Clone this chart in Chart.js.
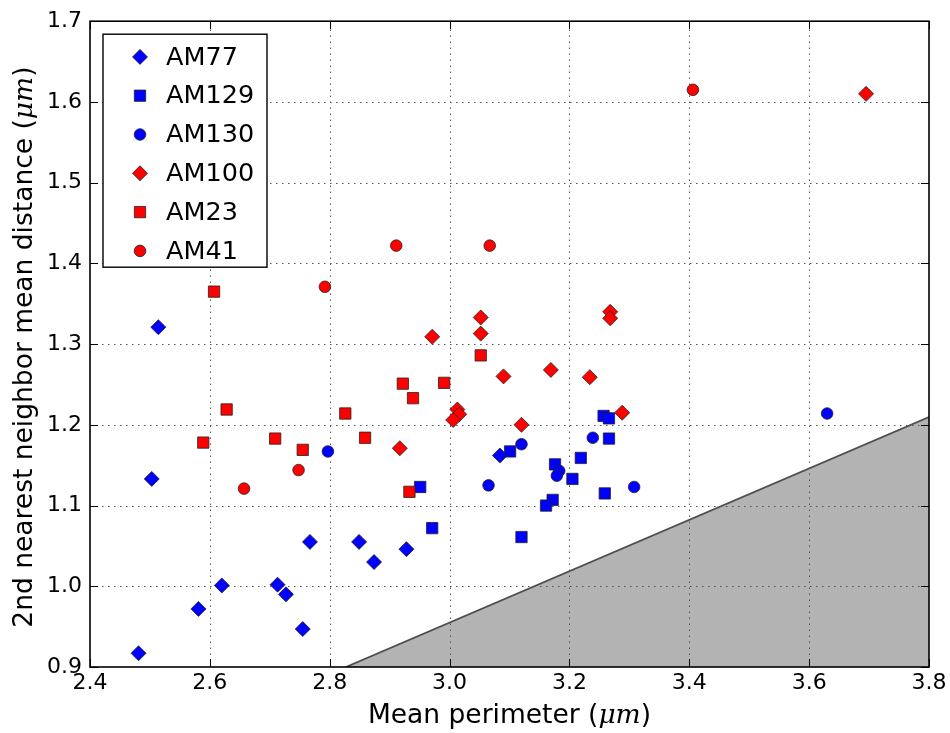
<!DOCTYPE html>
<html><head><meta charset="utf-8">
<script src="https://cdn.jsdelivr.net/npm/chart.js@4.4.0/dist/chart.umd.min.js"></script>
<style>html,body{margin:0;padding:0;background:#fff;} canvas{display:block;}</style>
</head><body>
<canvas id="c" width="950" height="733"></canvas>
<script>
// ---- data ----
const seriesNames = ['AM77', 'AM129', 'AM130', 'AM100', 'AM23', 'AM41'];

const am77X = [2.481, 2.514, 2.503, 2.581, 2.620, 2.713, 2.727, 2.755, 2.767, 2.849, 2.874, 2.928, 3.084];
const am77Y = [0.917, 1.321, 1.133, 0.972, 1.001, 1.002, 0.990, 0.947, 1.055, 1.055, 1.030, 1.046, 1.162];

const am129X = [2.951, 2.971, 3.101, 3.120, 3.176, 3.172, 3.161, 3.205, 3.219, 3.257, 3.266, 3.266, 3.259];
const am129Y = [1.123, 1.072, 1.167, 1.061, 1.151, 1.107, 1.100, 1.133, 1.159, 1.211, 1.208, 1.183, 1.115];

const am130X = [2.797, 3.120, 3.065, 3.183, 3.179, 3.239, 3.308, 3.630];
const am130Y = [1.167, 1.176, 1.125, 1.143, 1.137, 1.184, 1.123, 1.214];

const am100X = [2.971, 3.052, 3.052, 3.268, 3.268, 3.090, 3.169, 3.234, 3.288, 3.120, 2.917, 3.013, 3.016, 3.006, 3.695];
const am100Y = [1.309, 1.333, 1.313, 1.340, 1.332, 1.260, 1.268, 1.259, 1.215, 1.200, 1.171, 1.219, 1.213, 1.206, 1.610];

const am23X = [2.607, 2.628, 2.589, 2.709, 2.755, 2.826, 2.859, 2.922, 2.939, 2.991, 3.052, 2.933];
const am23Y = [1.365, 1.219, 1.178, 1.183, 1.169, 1.214, 1.184, 1.251, 1.233, 1.252, 1.286, 1.117];

const am41X = [2.792, 2.748, 2.657, 2.911, 3.067, 3.406];
const am41Y = [1.371, 1.144, 1.121, 1.422, 1.422, 1.615];

// shaded region boundary (y = x / pi)
const shadeX = [2.827, 3.8];
const shadeY = [0.9, 1.2096];

const xTicks = [2.4, 2.6, 2.8, 3.0, 3.2, 3.4, 3.6, 3.8];
const yTicks = [0.9, 1.0, 1.1, 1.2, 1.3, 1.4, 1.5, 1.6, 1.7];

// axis labels: [text, isMath]
const xLabelParts = [['Mean perimeter (', false], ['μm', true], [')', false]];
const yLabelParts = [['2nd nearest neighbor mean distance (', false], ['μm', true], [')', false]];

// ---- styling ----
const FONT = "'DejaVu Sans', 'Bitstream Vera Sans', sans-serif";
const MATHFONT = "'DejaVu Serif', serif";
const LABEL_SIZE = 26.5;
const BLUE = '#0000ff', RED = '#ff0000';
const seriesX = [am77X, am129X, am130X, am100X, am23X, am41X];
const seriesY = [am77Y, am129Y, am130Y, am100Y, am23Y, am41Y];
const seriesColor = [BLUE, BLUE, BLUE, RED, RED, RED];
const seriesStyle = ['rectRot', 'rect', 'circle', 'rectRot', 'rect', 'circle'];
const styleRadius = { rectRot: 7.5, rect: 8, circle: 5.8 };

const zip = (xs, ys) => xs.map((x, i) => ({ x: x, y: ys[i] }));

const datasets = seriesNames.map((name, i) => ({
  type: 'scatter',
  label: name,
  data: zip(seriesX[i], seriesY[i]),
  pointStyle: seriesStyle[i],
  pointRadius: styleRadius[seriesStyle[i]],
  pointBackgroundColor: seriesColor[i],
  pointBorderColor: '#222',
  pointBorderWidth: 0.8,
  order: 10 - i
}));
datasets.push({
  type: 'line',
  label: 'shade',
  data: zip(shadeX, shadeY),
  fill: 'start',
  backgroundColor: '#b3b3b3',
  borderColor: '#4d4d4d',
  borderWidth: 1.8,
  pointRadius: 0,
  tension: 0,
  order: 100
});
const SHADE_INDEX = datasets.length - 1;

function markerPath(ctx, style, x, y, r) {
  ctx.beginPath();
  if (style === 'rectRot') {
    ctx.moveTo(x - r, y); ctx.lineTo(x, y - r); ctx.lineTo(x + r, y); ctx.lineTo(x, y + r); ctx.closePath();
  } else if (style === 'rect') {
    const s = r * Math.SQRT1_2; ctx.rect(x - s, y - s, 2 * s, 2 * s);
  } else {
    ctx.arc(x, y, r, 0, Math.PI * 2);
  }
}

function partFont(isMath) {
  return isMath ? ('italic ' + LABEL_SIZE + 'px ' + MATHFONT) : (LABEL_SIZE + 'px ' + FONT);
}
function drawParts(ctx, parts, cx, baseY) {
  let total = 0;
  const widths = parts.map(p => { ctx.font = partFont(p[1]); const w = ctx.measureText(p[0]).width; total += w; return w; });
  let x = cx - total / 2;
  ctx.textAlign = 'left';
  ctx.textBaseline = 'alphabetic';
  parts.forEach((p, i) => { ctx.font = partFont(p[1]); ctx.fillText(p[0], x, baseY); x += widths[i]; });
}

const gridPlugin = {
  id: 'mplGrid',
  afterDatasetDraw(chart, args) {
    if (args.index !== SHADE_INDEX) return;
    const { ctx, chartArea: a, scales } = chart;
    ctx.save();
    ctx.strokeStyle = '#555';
    ctx.lineWidth = 1;
    ctx.setLineDash([1.5, 4.5]);
    xTicks.forEach(v => {
      const px = Math.round(scales.x.getPixelForValue(v)) + 0.5;
      if (px <= a.left + 1 || px >= a.right - 1) return;
      ctx.beginPath(); ctx.moveTo(px, a.bottom); ctx.lineTo(px, a.top); ctx.stroke();
    });
    yTicks.forEach(v => {
      const py = Math.round(scales.y.getPixelForValue(v)) + 0.5;
      if (py <= a.top + 1 || py >= a.bottom - 1) return;
      ctx.beginPath(); ctx.moveTo(a.left, py); ctx.lineTo(a.right, py); ctx.stroke();
    });
    ctx.restore();
  }
};

const framePlugin = {
  id: 'mplFrame',
  afterDraw(chart) {
    const { ctx, chartArea: a, scales } = chart;
    ctx.save();
    // inward ticks
    ctx.strokeStyle = '#000';
    ctx.lineWidth = 1;
    const TL = 8;
    xTicks.forEach(v => {
      const px = Math.round(scales.x.getPixelForValue(v)) + 0.5;
      ctx.beginPath();
      ctx.moveTo(px, a.bottom); ctx.lineTo(px, a.bottom - TL);
      ctx.moveTo(px, a.top); ctx.lineTo(px, a.top + TL);
      ctx.stroke();
    });
    yTicks.forEach(v => {
      const py = Math.round(scales.y.getPixelForValue(v)) + 0.5;
      ctx.beginPath();
      ctx.moveTo(a.left, py); ctx.lineTo(a.left + TL, py);
      ctx.moveTo(a.right, py); ctx.lineTo(a.right - TL, py);
      ctx.stroke();
    });
    // axes frame
    ctx.lineWidth = 1.6;
    ctx.strokeRect(a.left, a.top, a.right - a.left, a.bottom - a.top);

    // axis labels
    ctx.fillStyle = '#000';
    drawParts(ctx, xLabelParts, (a.left + a.right) / 2, a.bottom + 56);
    ctx.save();
    ctx.translate(31.5, (a.top + a.bottom) / 2 + 3);
    ctx.rotate(-Math.PI / 2);
    drawParts(ctx, yLabelParts, 0, 0);
    ctx.restore();

    // legend box
    const lx = a.left + 13, ly = a.top + 13, lw = 164, lh = 233;
    ctx.fillStyle = '#fff';
    ctx.fillRect(lx, ly, lw, lh);
    ctx.lineWidth = 1.4;
    ctx.strokeStyle = '#000';
    ctx.strokeRect(lx, ly, lw, lh);
    const rowH = 38.8;
    ctx.font = '25.5px ' + FONT;
    ctx.textBaseline = 'middle';
    ctx.textAlign = 'left';
    seriesNames.forEach((name, i) => {
      const cy = ly + 22.7 + i * rowH;
      const cx = lx + 37;
      markerPath(ctx, seriesStyle[i], cx, cy, styleRadius[seriesStyle[i]]);
      ctx.fillStyle = seriesColor[i];
      ctx.fill();
      ctx.lineWidth = 0.8;
      ctx.strokeStyle = '#222';
      ctx.stroke();
      ctx.fillStyle = '#000';
      ctx.fillText(name, lx + 63, cy + 1);
    });
    ctx.restore();
  }
};

new Chart(document.getElementById('c'), {
  data: { datasets: datasets },
  options: {
    responsive: false,
    animation: false,
    events: [],
    layout: { padding: { left: 0, right: 21, top: 12, bottom: 0 } },
    plugins: { legend: { display: false }, tooltip: { enabled: false } },
    scales: {
      x: {
        type: 'linear', min: 2.4, max: 3.8,
        afterBuildTicks: s => { s.ticks = xTicks.map(v => ({ value: v })); },
        afterFit: s => { s.height = 66; },
        grid: { display: false, drawTicks: false },
        border: { display: false },
        ticks: { padding: 3, color: '#000', maxRotation: 0, autoSkip: false,
                 font: { family: FONT, size: 22 }, callback: v => Number(v).toFixed(1) },
        title: { display: false }
      },
      y: {
        type: 'linear', min: 0.9, max: 1.7,
        afterBuildTicks: s => { s.ticks = yTicks.map(v => ({ value: v })); },
        afterFit: s => { s.width = 90; },
        grid: { display: false, drawTicks: false },
        border: { display: false },
        ticks: { padding: 8, color: '#000', autoSkip: false,
                 font: { family: FONT, size: 22 }, callback: v => Number(v).toFixed(1) },
        title: { display: false }
      }
    }
  },
  plugins: [gridPlugin, framePlugin]
});
</script>
</body></html>
